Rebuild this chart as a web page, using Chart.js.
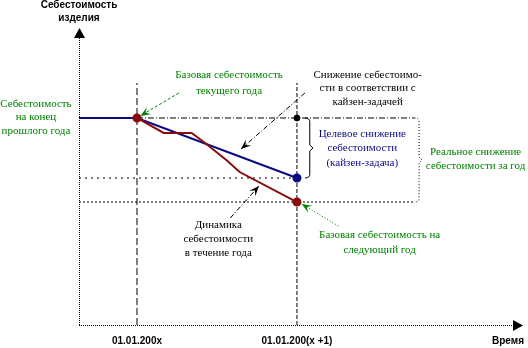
<!DOCTYPE html>
<html>
<head>
<meta charset="utf-8">
<script src="https://cdn.jsdelivr.net/npm/chart.js@4.4.1/dist/chart.umd.min.js"></script>
<style>
  html, body { margin: 0; padding: 0; background: #fff; }
</style>
</head>
<body>
<canvas id="costChart" width="528" height="348"></canvas>
<script>
// Ось X - месяцы от 01.01.200x, ось Y - себестоимость (% от уровня на конец прошлого года)
const xTicks = [0, 12];
const xTickLabels = ['01.01.200x', '01.01.200(x +1)'];

// Целевое снижение (кайзен-задача)
const targetMonths = [-4.35, 0, 12];
const targetCost = [100, 100, 71];

// Фактическая динамика себестоимости в течение года
const actualMonths = [0, 2, 4.1, 5.2, 6.7, 7.7, 12];
const actualCost = [100, 92.8, 92.8, 87.4, 79.7, 73.9, 59.4];

// Уровни: база текущего года, цель, база следующего года
const baseCost = 100;
const targetEnd = 71;
const nextBase = 59.4;

const GREEN = '#008000';
const NAVY = '#0a0a84';
const DARKRED = '#8b0a0a';
const SERIF = '11px "Liberation Serif"';
const BOLD = 'bold 10px "Liberation Sans"';

// подписи (позиции в единицах осей)
const notes = [
    { x: -7.58, y: 106.8, lines: ['Себестоимость', 'на конец', 'прошлого года'], color: GREEN, step: 6.5 },
    { x: 6.9, y: 120.8, lines: ['Базовая себестоимость', 'текущего года'], color: GREEN, step: 7.8 },
    { x: 17.3, y: 120.8, lines: ['Снижение себестоимо-', 'сти в соответствии с', 'кайзен-задачей'], color: '#000', step: 6.5 },
    { x: 16.9, y: 92.3, lines: ['Целевое снижение', 'себестоимости', '(кайзен-задача)'], color: NAVY, step: 7.0 },
    { x: 25.4, y: 83.6, lines: ['Реальное снижение', 'себестоимости за год'], color: GREEN, step: 6.8 },
    { x: 6.1, y: 48.3, lines: ['Динамика', 'себестоимости', 'в течение года'], color: '#000', step: 6.8 },
    { x: 18.2, y: 43.5, lines: ['Базовая себестоимость на', 'следующий год'], color: GREEN, step: 7.3 }
];

// стрелки-выноски: [x1, y1, x2, y2]
const pointers = [
    { from: [3.15, 112.1], to: [0.25, 101.0], color: GREEN, dash: [3, 2] },
    { from: [12.6, 112.1], to: [7.8, 85.0], color: '#000', dash: [5, 2, 1, 2] },
    { from: [7.0, 51.7], to: [9.15, 67.1], color: '#000', dash: [5, 2, 1, 2] },
    { from: [15.1, 47.8], to: [12.35, 58.5], color: GREEN, dash: [1, 2] }
];

function line(x1, y1, x2, y2) {
    return [{ x: x1, y: y1 }, { x: x2, y: y2 }];
}

const refLine = (data, dash, order) => ({
    data: data,
    borderColor: '#000',
    borderWidth: 1,
    borderDash: dash,
    pointRadius: 0,
    showLine: true,
    clip: false,
    order: order
});

function drawArrow(ctx, x1, y1, x2, y2, color, dash) {
    ctx.save();
    ctx.strokeStyle = color;
    ctx.fillStyle = color;
    ctx.lineWidth = 1;
    ctx.setLineDash(dash);
    ctx.beginPath();
    ctx.moveTo(x1, y1);
    ctx.lineTo(x2, y2);
    ctx.stroke();
    ctx.setLineDash([]);
    const a = Math.atan2(y2 - y1, x2 - x1);
    const len = 10, half = 4;
    ctx.beginPath();
    ctx.moveTo(x2, y2);
    ctx.lineTo(x2 - len * Math.cos(a) + half * Math.sin(a), y2 - len * Math.sin(a) - half * Math.cos(a));
    ctx.lineTo(x2 - len * 0.6 * Math.cos(a), y2 - len * 0.6 * Math.sin(a));
    ctx.lineTo(x2 - len * Math.cos(a) - half * Math.sin(a), y2 - len * Math.sin(a) + half * Math.cos(a));
    ctx.closePath();
    ctx.fill();
    ctx.restore();
}

function drawBrace(ctx, x, y1, y2, w, dash) {
    const mid = (y1 + y2) / 2;
    const xv = x + w * 0.6;
    ctx.save();
    ctx.strokeStyle = '#000';
    ctx.lineWidth = 1;
    ctx.setLineDash(dash);
    ctx.beginPath();
    ctx.moveTo(x, y1);
    ctx.quadraticCurveTo(xv, y1, xv, y1 + 4);
    ctx.lineTo(xv, mid - 3);
    ctx.lineTo(x + w, mid);
    ctx.lineTo(xv, mid + 3);
    ctx.lineTo(xv, y2 - 4);
    ctx.quadraticCurveTo(xv, y2, x, y2);
    ctx.stroke();
    ctx.restore();
}

const annotations = {
    id: 'annotations',
    afterDatasetsDraw(chart) {
        const ctx = chart.ctx;
        const xs = chart.scales.x, ys = chart.scales.y;
        const px = v => xs.getPixelForValue(v);
        const py = v => ys.getPixelForValue(v);
        const left = chart.chartArea.left, right = chart.chartArea.right;
        const top = chart.chartArea.top, bottom = chart.chartArea.bottom;

        // оси
        ctx.save();
        ctx.strokeStyle = '#000';
        ctx.fillStyle = '#000';
        ctx.lineWidth = 1;
        ctx.setLineDash([1, 1]);
        ctx.beginPath();
        ctx.moveTo(left + 0.5, bottom);
        ctx.lineTo(left + 0.5, top + 6);
        ctx.moveTo(left, bottom + 0.5);
        ctx.lineTo(right - 4, bottom + 0.5);
        ctx.stroke();
        ctx.setLineDash([]);
        ctx.beginPath();
        ctx.moveTo(left + 0.5, top - 2);
        ctx.lineTo(left - 5, top + 8);
        ctx.lineTo(left + 6, top + 8);
        ctx.closePath();
        ctx.fill();
        ctx.beginPath();
        ctx.moveTo(right + 3, bottom + 0.5);
        ctx.lineTo(right - 7, bottom - 5);
        ctx.lineTo(right - 7, bottom + 6);
        ctx.closePath();
        ctx.fill();

        // заголовки осей и метки дат
        ctx.font = BOLD;
        ctx.textAlign = 'center';
        ctx.textBaseline = 'middle';
        ctx.fillText('Себестоимость', left, 5);
        ctx.fillText('изделия', left, 18);
        xTicks.forEach((t, i) => ctx.fillText(xTickLabels[i], px(t), bottom + 16));
        ctx.fillText('Время', right - 12, bottom + 16);
        ctx.restore();

        // фигурные скобки
        drawBrace(ctx, px(12.6), py(baseCost), py(targetEnd), 8, []);
        drawBrace(ctx, px(20.8), py(baseCost), py(nextBase), 8, [1, 2]);

        // выноски
        pointers.forEach(p => drawArrow(ctx, px(p.from[0]), py(p.from[1]), px(p.to[0]), py(p.to[1]), p.color, p.dash));

        // подписи
        ctx.save();
        ctx.font = SERIF;
        ctx.textAlign = 'center';
        ctx.textBaseline = 'middle';
        notes.forEach(n => {
            ctx.fillStyle = n.color;
            n.lines.forEach((s, i) => ctx.fillText(s, px(n.x), py(n.y - i * n.step)));
        });
        ctx.restore();
    }
};

new Chart(document.getElementById('costChart'), {
    type: 'scatter',
    data: {
        datasets: [
            // фактическая себестоимость
            {
                data: actualMonths.map((m, i) => ({ x: m, y: actualCost[i] })),
                borderColor: DARKRED,
                backgroundColor: DARKRED,
                borderWidth: 2,
                showLine: true,
                clip: false,
                pointRadius: actualMonths.map((m, i) => (i === 0 || i === actualMonths.length - 1) ? 3.5 : 0),
                order: 1
            },
            // целевое снижение
            {
                data: targetMonths.map((m, i) => ({ x: m, y: targetCost[i] })),
                borderColor: NAVY,
                backgroundColor: NAVY,
                borderWidth: 2,
                showLine: true,
                clip: false,
                pointRadius: targetMonths.map((m, i) => i === targetMonths.length - 1 ? 3.5 : 0),
                order: 2
            },
            // точка уровня базы на конец года
            {
                data: [{ x: 12, y: baseCost }],
                backgroundColor: '#000',
                borderColor: '#000',
                pointRadius: 3,
                clip: false,
                order: 0
            },
            refLine(line(0, 0, 0, 116.9), [7, 3], 5),
            refLine(line(12, 0, 12, 116.9), [4, 2], 5),
            refLine(line(0, baseCost, 20.8, baseCost), [6, 2, 1, 2], 5),
            refLine(line(-4.35, targetEnd, 12, targetEnd), [2, 4], 5),
            refLine(line(-4.35, nextBase, 20.8, nextBase), [2, 2], 5)
        ]
    },
    options: {
        responsive: false,
        animation: false,
        events: [],
        layout: { padding: { left: 79, top: 30, right: 8, bottom: 23 } },
        plugins: { legend: { display: false }, tooltip: { enabled: false } },
        scales: {
            x: { type: 'linear', min: -4.35, max: 28.73, display: false },
            y: { type: 'linear', min: 0, max: 142.5, display: false }
        }
    },
    plugins: [annotations]
});
</script>
</body>
</html>
